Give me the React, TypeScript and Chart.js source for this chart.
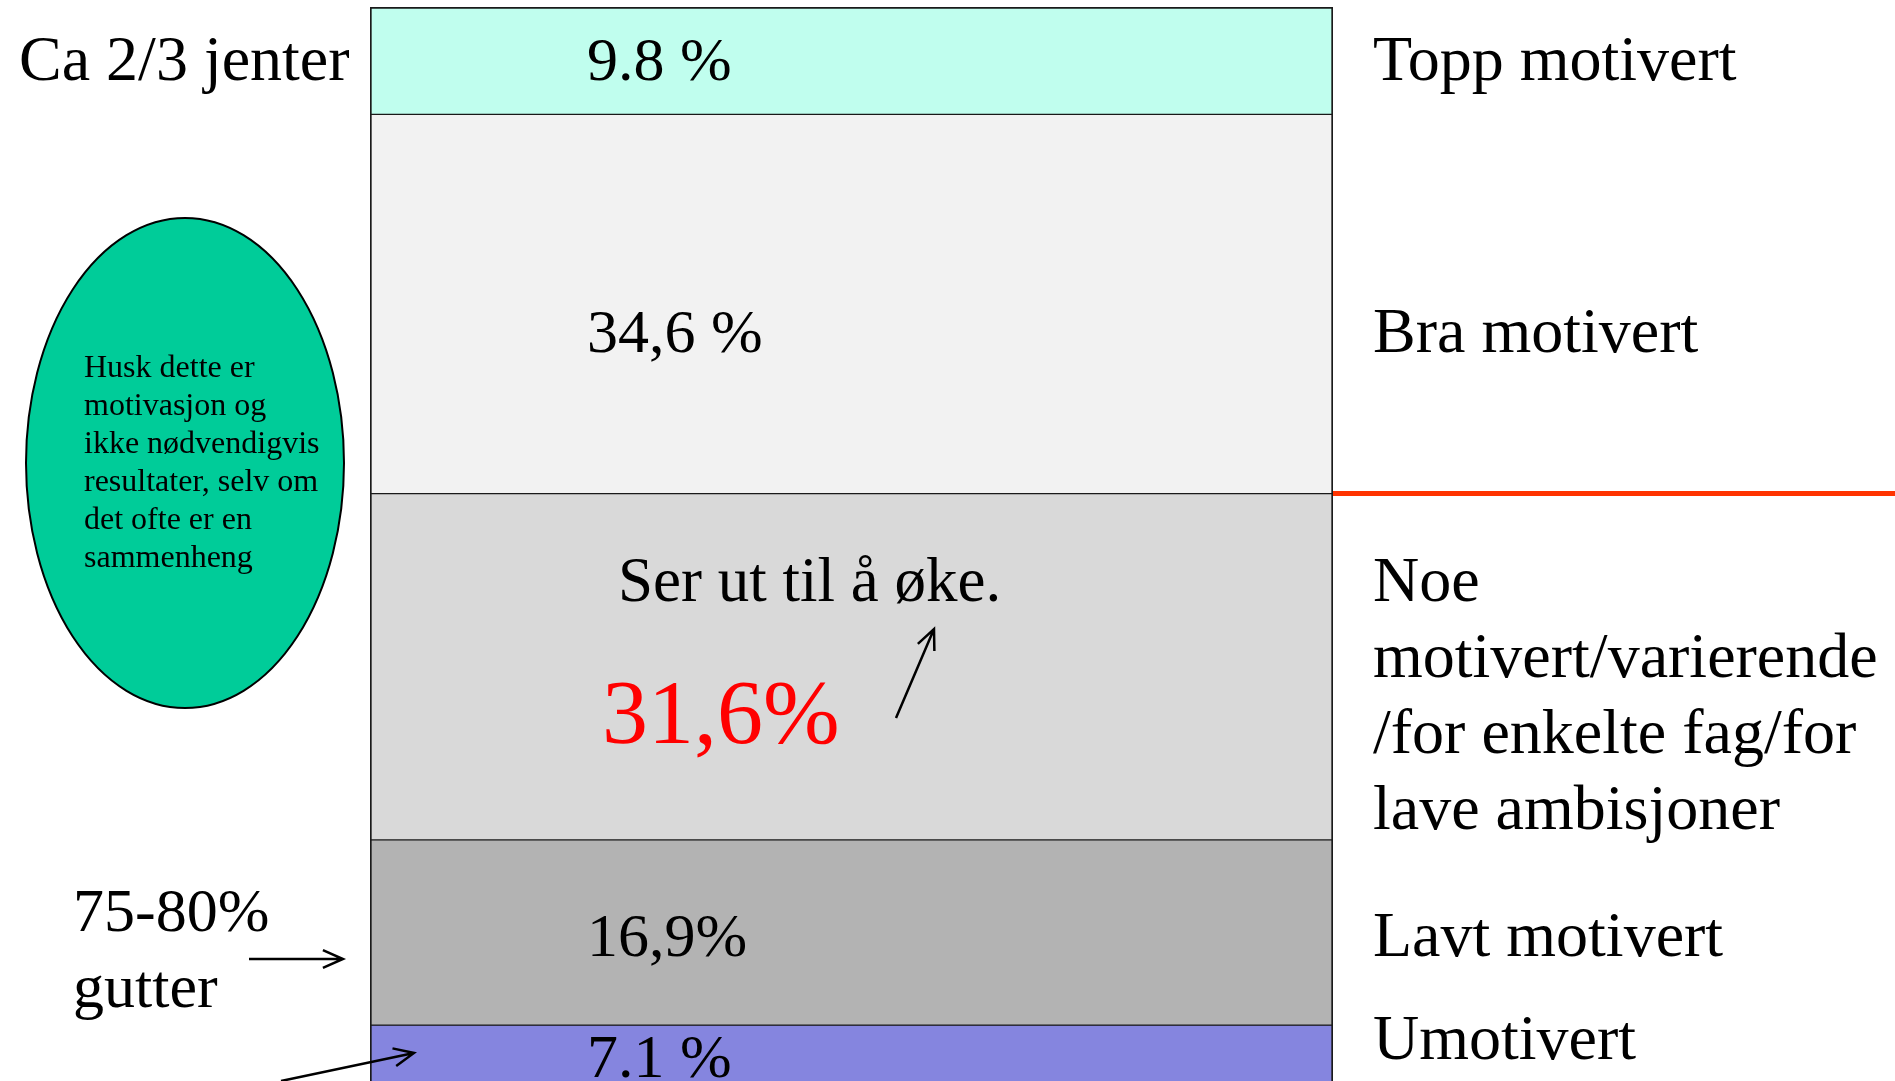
import React, { useEffect, useRef } from "react";
import { Chart, registerables } from "chart.js";

Chart.register(...registerables);

// ---------- data ----------
const categories = ["Motivasjon"];
const levelNames = [
  "Topp motivert",
  "Bra motivert",
  "Noe motivert/varierende/for enkelte fag/for lave ambisjoner",
  "Lavt motivert",
  "Umotivert",
];
const shares = [9.8, 34.6, 31.6, 16.9, 7.1];
const shareLabels = ["9.8 %", "34,6 %", "31,6%", "16,9%", "7.1 %"];
const rightLabelLines = [
  ["Topp motivert"],
  ["Bra motivert"],
  ["Noe", "motivert/varierende", "/for enkelte fag/for", "lave ambisjoner"],
  ["Lavt motivert"],
  ["Umotivert"],
];
const segmentColors = ["#C0FEEE", "#F2F2F2", "#D9D9D9", "#B3B3B3", "#8585DF"];
const ellipseNote = [
  "Husk dette er",
  "motivasjon og",
  "ikke nødvendigvis",
  "resultater, selv om",
  "det ofte er en",
  "sammenheng",
];
const trendNote = "Ser ut til å øke.";
const girlsNote = "Ca 2/3 jenter";
const boysNote = ["75-80%", "gutter"];

// ---------- layout (annotation placement) ----------
const W = 1895;
const H = 1081;
const SERIF = "'Liberation Serif', 'Times New Roman', serif";
const valueLabelX = 587;
const rightLabelX = 1373;
const labelBaselines = [80, 352, 601, 956, 1059];
const valueBaselines = [80, 352, 743, 956, 1077];
const lineStep = 76;

function arrow(ctx: CanvasRenderingContext2D, x1: number, y1: number, x2: number, y2: number) {
  const a = Math.atan2(y2 - y1, x2 - x1);
  const L = 22;
  const s = 0.42;
  ctx.beginPath();
  ctx.moveTo(x1, y1);
  ctx.lineTo(x2, y2);
  ctx.moveTo(x2 - L * Math.cos(a - s), y2 - L * Math.sin(a - s));
  ctx.lineTo(x2, y2);
  ctx.lineTo(x2 - L * Math.cos(a + s), y2 - L * Math.sin(a + s));
  ctx.stroke();
}

const overlayPlugin = {
  id: "overlay",
  afterDraw(chart: any) {
    const ctx: CanvasRenderingContext2D = chart.ctx;
    const area = chart.chartArea;
    ctx.save();

    // red divider at the boundary between "Bra" and "Noe"
    const el = chart.getDatasetMeta(1).data[0] as any;
    const yDiv = Math.max(el.y, el.base);
    ctx.strokeStyle = "#FF3300";
    ctx.lineWidth = 5;
    ctx.beginPath();
    ctx.moveTo(area.right, yDiv);
    ctx.lineTo(chart.width, yDiv);
    ctx.stroke();

    // value labels
    ctx.textBaseline = "alphabetic";
    ctx.textAlign = "left";
    shareLabels.forEach((t, i) => {
      if (i === 2) {
        ctx.fillStyle = "#FF0000";
        ctx.font = `92px ${SERIF}`;
        ctx.fillText(t, 602, valueBaselines[i]);
      } else {
        ctx.fillStyle = "#000";
        ctx.font = `62px ${SERIF}`;
        ctx.fillText(t, valueLabelX, valueBaselines[i]);
      }
    });

    // right side level labels
    ctx.fillStyle = "#000";
    ctx.font = `64px ${SERIF}`;
    rightLabelLines.forEach((lines, i) => {
      lines.forEach((ln, j) => {
        ctx.fillText(ln, rightLabelX, labelBaselines[i] + j * lineStep);
      });
    });

    // trend note and arrow
    ctx.font = `63px ${SERIF}`;
    ctx.fillText(trendNote, 618, 601);
    ctx.strokeStyle = "#000";
    ctx.lineWidth = 2.5;
    arrow(ctx, 896, 718, 934, 629);

    // left notes
    ctx.font = `64px ${SERIF}`;
    ctx.fillText(girlsNote, 19, 80);
    ctx.font = `62px ${SERIF}`;
    ctx.fillText(boysNote[0], 73, 931);
    ctx.fillText(boysNote[1], 73, 1007);
    arrow(ctx, 249, 959, 343, 959);
    arrow(ctx, 281, 1081, 414, 1053);

    // ellipse note
    ctx.beginPath();
    ctx.ellipse(185, 463, 159, 245, 0, 0, Math.PI * 2);
    ctx.fillStyle = "#00CC99";
    ctx.fill();
    ctx.lineWidth = 2;
    ctx.strokeStyle = "#000";
    ctx.stroke();
    ctx.fillStyle = "#000";
    ctx.font = `32px ${SERIF}`;
    ellipseNote.forEach((ln, j) => ctx.fillText(ln, 84, 377 + j * 38));

    ctx.restore();
  },
};

export default function App() {
  const ref = useRef<HTMLCanvasElement | null>(null);

  useEffect(() => {
    if (!ref.current) return;
    const chart = new Chart(ref.current, {
      type: "bar",
      data: {
        labels: categories,
        datasets: shares.map((v, i) => ({
          label: levelNames[i],
          data: [v],
          backgroundColor: segmentColors[i],
          borderColor: "#1a1a1a",
          borderWidth: { top: i === 0 ? 2 : 1, bottom: 1, left: 2, right: 2 },
          borderSkipped: false,
          barPercentage: 1,
          categoryPercentage: 1,
        })),
      },
      options: {
        responsive: false,
        animation: false,
        layout: { padding: { left: 370, right: W - 1333, top: 7, bottom: 0 } },
        plugins: {
          legend: { display: false },
          tooltip: { enabled: false },
        },
        scales: {
          x: { stacked: true, display: false },
          y: { stacked: true, display: false, reverse: true, min: 0, max: 98 },
        },
      },
      plugins: [overlayPlugin],
    });
    return () => chart.destroy();
  }, []);

  return (
    <div style={{ position: "fixed", left: 0, top: 0, width: W, height: H, background: "#fff" }}>
      <canvas ref={ref} width={W} height={H} style={{ display: "block", width: W, height: H }} />
    </div>
  );
}
